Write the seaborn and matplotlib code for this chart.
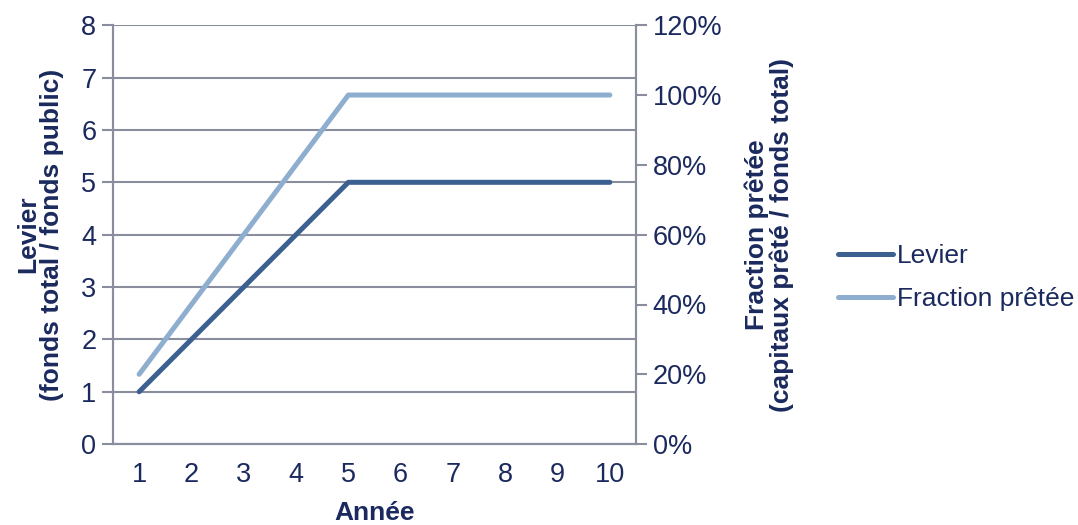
import numpy as np
import pandas as pd
import matplotlib
matplotlib.use("Agg")
import matplotlib.pyplot as plt
import seaborn as sns
from matplotlib.ticker import FuncFormatter, FixedLocator

# Data
annees = [1, 2, 3, 4, 5, 6, 7, 8, 9, 10]
levier = [1, 2, 3, 4, 5, 5, 5, 5, 5, 5]
fraction_pretee = [0.2, 0.4, 0.6, 0.8, 1.0, 1.0, 1.0, 1.0, 1.0, 1.0]

df = pd.DataFrame({"Année": annees, "Levier": levier, "Fraction prêtée": fraction_pretee})

sns.set_style("white")
plt.rcParams["font.family"] = ["Liberation Sans", "DejaVu Sans"]

text_col = "#1B2A5E"
grid_col = "#8A8D9E"
c_levier = "#3C6190"
c_fraction = "#8EAED0"
tick_fs = 19.5
label_fs = 19

fig = plt.figure(figsize=(10.78, 5.25), dpi=100)
ax = fig.add_axes([0.1048, 0.154, 0.4852, 0.798])
ax2 = ax.twinx()

sns.lineplot(data=df, x="Année", y="Levier", ax=ax, color=c_levier, lw=3.6,
             solid_capstyle="round", label="Levier", legend=False)
sns.lineplot(data=df, x="Année", y="Fraction prêtée", ax=ax2, color=c_fraction, lw=3.6,
             solid_capstyle="round", label="Fraction prêtée", legend=False)

ax.set_xlim(0.5, 10.5)
ax.set_ylim(0, 8)
ax2.set_ylim(0, 1.2)

# left axis
ax.set_yticks(range(0, 9))
ax.yaxis.grid(True, color=grid_col, lw=1.5)
ax.set_axisbelow(True)
ax.xaxis.grid(False)

# x axis: tick marks between categories, labels centred
ax.xaxis.set_major_locator(FixedLocator(np.arange(0.5, 11.0, 1.0)))
ax.xaxis.set_minor_locator(FixedLocator(annees))
ax.set_xticklabels([])
ax.set_xticklabels([str(a) for a in annees], minor=True)
ax.tick_params(axis="x", which="major", length=7, width=1.5, color=grid_col, direction="out")
ax.tick_params(axis="x", which="minor", length=0, pad=13, labelsize=tick_fs, labelcolor=text_col)
ax.tick_params(axis="y", length=8, width=1.5, color=grid_col, direction="out",
               labelsize=tick_fs, labelcolor=text_col, pad=4)

# right axis
ax2.set_yticks(np.arange(0, 1.21, 0.2))
ax2.yaxis.set_major_formatter(FuncFormatter(lambda v, p: f"{v * 100:.0f}%"))
ax2.tick_params(axis="y", length=8, width=1.5, color=grid_col, direction="out",
                labelsize=tick_fs, labelcolor=text_col, pad=4)
ax2.grid(False)

for a in (ax, ax2):
    a.spines["top"].set_visible(False)
    for s in ("left", "right", "bottom"):
        a.spines[s].set_color(grid_col)
        a.spines[s].set_linewidth(1.5)

ax.set_xlabel("Année", fontsize=label_fs, fontweight="bold", color=text_col, labelpad=9)
ax.set_ylabel("Levier\n(fonds total / fonds public)", fontsize=label_fs, fontweight="bold",
              color=text_col, labelpad=12, linespacing=1.0)
ax2.set_ylabel("Fraction prêtée\n(capitaux prêté / fonds total)", fontsize=label_fs,
               fontweight="bold", color=text_col, labelpad=16, linespacing=1.0)

h1, l1 = ax.get_legend_handles_labels()
h2, l2 = ax2.get_legend_handles_labels()
fig.legend(h1 + h2, l1 + l2, loc="center left", bbox_to_anchor=(0.755, 0.471),
           frameon=False, fontsize=19, labelcolor=text_col, handlelength=2.1,
           handletextpad=0.15, labelspacing=0.7)

fig.savefig("out.png", dpi=100)
